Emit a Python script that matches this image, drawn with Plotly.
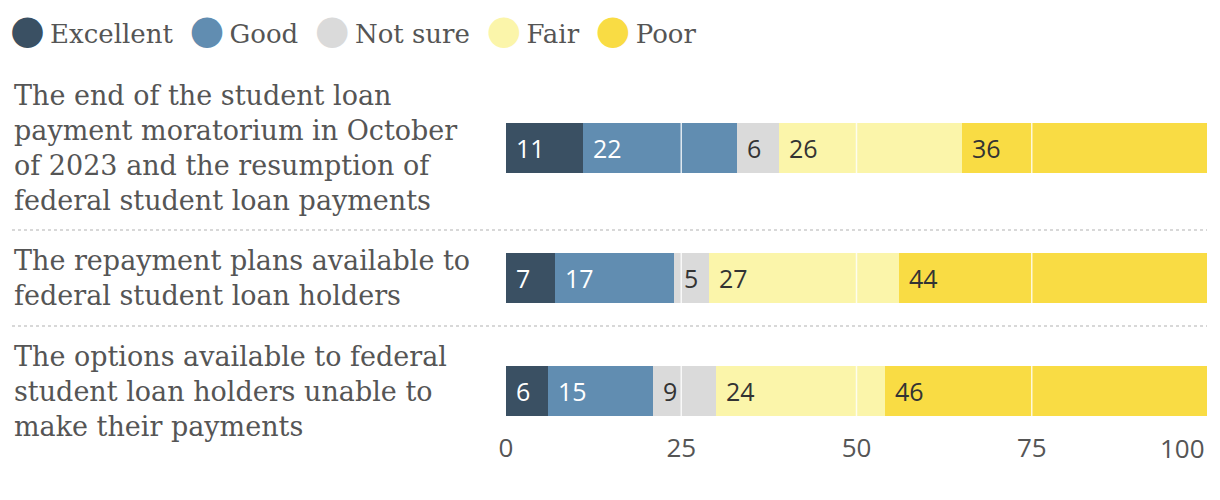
import plotly.graph_objects as go

# Datos
questions = [
    "The end of the student loan<br>payment moratorium in October<br>of 2023 and the resumption of<br>federal student loan payments",
    "The repayment plans available to<br>federal student loan holders",
    "The options available to federal<br>student loan holders unable to<br>make their payments",
]
answers = ["Excellent", "Good", "Not sure", "Fair", "Poor"]
values = {
    "Excellent": [11, 7, 6],
    "Good": [22, 17, 15],
    "Not sure": [6, 5, 9],
    "Fair": [26, 27, 24],
    "Poor": [36, 44, 46],
}
tick_vals = [0, 25, 50, 75, 100]

colors = {
    "Excellent": "#3a5063",
    "Good": "#618db1",
    "Not sure": "#dadada",
    "Fair": "#fbf5aa",
    "Poor": "#f9dc44",
}
text_colors = {
    "Excellent": "#ffffff",
    "Good": "#ffffff",
    "Not sure": "#333333",
    "Fair": "#333333",
    "Poor": "#333333",
}

SERIF = "DejaVu Serif"
SANS = "Open Sans"
GREY = "#555555"

W, H = 1220, 500
L, R, T, B = 506, 13, 75, 70

# posiciones de las filas según el número de líneas de cada etiqueta
LINE_H, GAP, START = 34, 28, 80
n_lines = [q.count("<br>") + 1 for q in questions]
centers, bounds = [], []
y = START
for i, n in enumerate(n_lines):
    centers.append(y + n * LINE_H / 2)
    y += n * LINE_H
    if i < len(n_lines) - 1:
        bounds.append(y + GAP / 2)
        y += GAP

fig = go.Figure()

cum = [0] * len(questions)
annotations = []
for a in answers:
    fig.add_trace(go.Bar(
        x=values[a], y=centers, orientation="h", width=50,
        marker=dict(color=colors[a], line=dict(width=0)),
        name=a, showlegend=False, hoverinfo="x+name",
    ))
    for i, v in enumerate(values[a]):
        annotations.append(dict(
            x=cum[i], y=centers[i], xref="x", yref="y", text=str(v),
            xanchor="left", yanchor="middle", xshift=8, showarrow=False,
            font=dict(family=SANS, size=25, color=text_colors[a]),
        ))
        cum[i] += v

plot_w = W - L - R
x_left = (12 - L) / plot_w

# etiquetas de las preguntas
for q, c in zip(questions, centers):
    annotations.append(dict(
        x=x_left, y=c, xref="paper", yref="y", text=q, align="left",
        xanchor="left", yanchor="middle", showarrow=False,
        font=dict(family=SERIF, size=27, color=GREY),
    ))

# leyenda
legend_txt = "&nbsp;&nbsp;".join(
    f"<span style='color:{colors[a]};font-size:40px'>●</span>\u2009{a}" for a in answers
)
annotations.append(dict(
    x=(8 - L) / plot_w, y=1, xref="paper", yref="paper", yshift=T - 29,
    text=legend_txt, xanchor="left", yanchor="middle", showarrow=False,
    font=dict(family=SERIF, size=26, color=GREY),
))

# última etiqueta del eje alineada a la derecha
annotations.append(dict(
    x=tick_vals[-1], y=0, xref="x", yref="paper", text=str(tick_vals[-1]),
    xanchor="right", yanchor="top", yshift=2, showarrow=False,
    font=dict(family=SANS, size=26, color=GREY),
))

shapes = []
for b in bounds:
    shapes.append(dict(
        type="line", xref="paper", yref="y", x0=x_left, x1=1, y0=b, y1=b,
        line=dict(color="#cccccc", width=1.5, dash="dot"), layer="above",
    ))
for t in tick_vals[1:-1]:
    shapes.append(dict(
        type="line", xref="x", yref="paper", x0=t, x1=t, y0=0, y1=1,
        line=dict(color="rgba(255,255,255,0.8)", width=1.5), layer="above",
    ))

fig.update_layout(
    width=W, height=H,
    barmode="stack",
    margin=dict(l=L, r=R, t=T, b=B),
    plot_bgcolor="white", paper_bgcolor="white",
    xaxis=dict(
        range=[0, 100], tickvals=tick_vals,
        ticktext=[str(t) for t in tick_vals[:-1]] + [""],
        showgrid=False, zeroline=False, showline=False,
        tickfont=dict(family=SANS, size=26, color=GREY),
        ticks="", ticklabelstandoff=0,
    ),
    yaxis=dict(
        range=[H - B, T], showticklabels=False, showgrid=False,
        zeroline=False, showline=False,
    ),
    annotations=annotations,
    shapes=shapes,
)

fig.write_html("out.html", config={"displayModeBar": False},
               post_script="document.body.style.margin='0';")
